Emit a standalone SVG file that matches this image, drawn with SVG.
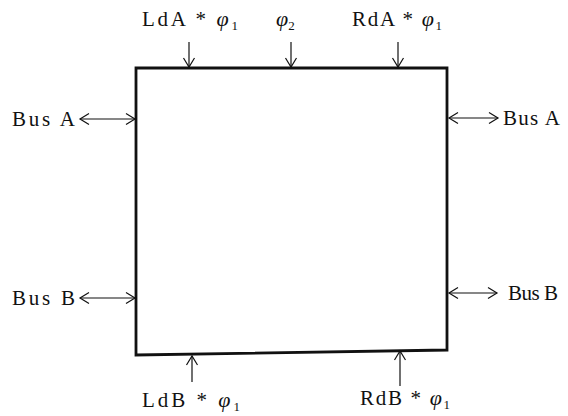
<svg xmlns="http://www.w3.org/2000/svg" width="568" height="416" viewBox="0 0 568 416">
<style>
text{font-family:"Liberation Serif","DejaVu Serif",serif;font-size:21px;fill:#111}
.phi{font-style:italic;font-size:22px}
.sub{font-size:13px}
.conn line{stroke:#111;stroke-width:1.2;fill:none}
.one{marker-end:url(#ah)}
.two{marker-start:url(#ahs);marker-end:url(#ah)}
</style>
<defs>
<marker id="ah" markerWidth="14" markerHeight="14" refX="11" refY="7" orient="auto" markerUnits="userSpaceOnUse">
<path d="M2,1.5 L11,7 L2,12.5" fill="none" stroke="#111" stroke-width="1.2"/>
</marker>
<marker id="ahs" markerWidth="14" markerHeight="14" refX="3" refY="7" orient="auto" markerUnits="userSpaceOnUse">
<path d="M12,1.5 L3,7 L12,12.5" fill="none" stroke="#111" stroke-width="1.2"/>
</marker>
</defs>
<g id="block">
<polygon points="136,68 447,68 447,350 136,355" fill="none" stroke="#111" stroke-width="2.8"/>
</g>
<g class="conn" id="connectors">
<line class="one" x1="189" y1="42" x2="189" y2="67"/>
<line class="one" x1="291" y1="42" x2="291" y2="67"/>
<line class="one" x1="398" y1="42" x2="398" y2="67"/>
<line class="two" x1="80" y1="119" x2="135" y2="119"/>
<line class="two" x1="449" y1="118" x2="498" y2="118"/>
<line class="two" x1="80" y1="298" x2="135" y2="298"/>
<line class="two" x1="449" y1="293" x2="497" y2="293"/>
<line class="one" x1="192" y1="382" x2="192" y2="356"/>
<line class="one" x1="400" y1="386" x2="400" y2="351"/>
</g>
<g id="labels">
<text x="142" y="26" textLength="96" lengthAdjust="spacing">LdA * <tspan class="phi">φ</tspan><tspan class="sub" dy="4">1</tspan></text>
<text x="276" y="26"><tspan class="phi">φ</tspan><tspan class="sub" dy="4">2</tspan></text>
<text x="352" y="26" textLength="90" lengthAdjust="spacing">RdA * <tspan class="phi">φ</tspan><tspan class="sub" dy="4">1</tspan></text>
<text x="12" y="126" textLength="63" lengthAdjust="spacing">Bus A</text>
<text x="503" y="125" textLength="57" lengthAdjust="spacing">Bus A</text>
<text x="12" y="305" textLength="63" lengthAdjust="spacing">Bus B</text>
<text x="508" y="300" textLength="50" lengthAdjust="spacing">Bus B</text>
<text x="142" y="407" textLength="98" lengthAdjust="spacing">LdB * <tspan class="phi">φ</tspan><tspan class="sub" dy="4">1</tspan></text>
<text x="360" y="405" textLength="90" lengthAdjust="spacing">RdB * <tspan class="phi">φ</tspan><tspan class="sub" dy="4">1</tspan></text>
</g>
</svg>
